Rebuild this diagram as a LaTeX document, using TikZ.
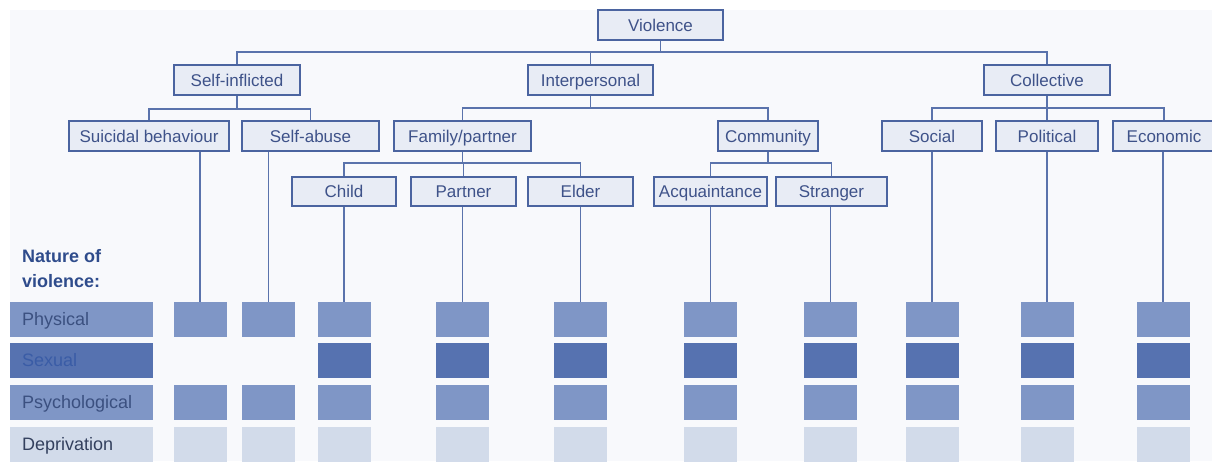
\documentclass[tikz,border=0pt]{standalone}
\usepackage{fontspec}
\setmainfont{Liberation Sans}
\definecolor{bg}{HTML}{F8F9FC}
\definecolor{boxfill}{HTML}{E8ECF5}
\definecolor{boxline}{HTML}{4B64A0}
\definecolor{boxtext}{HTML}{3E5289}
\definecolor{conncol}{HTML}{5A73AC}
\definecolor{physcol}{HTML}{7F96C6}
\definecolor{sexcol}{HTML}{5672B0}
\definecolor{deprcol}{HTML}{D2DBEA}
\definecolor{labtext}{HTML}{3B5080}
\definecolor{sextext}{HTML}{3A5CA6}
\definecolor{deprtext}{HTML}{33405E}
\definecolor{headtext}{HTML}{2F4C8C}
\begin{document}
\begin{tikzpicture}[x=1pt,y=-1pt,
  tbox/.style={draw=boxline, fill=boxfill, line width=1.8pt, inner sep=0pt,
    text=boxtext, text height=12.2pt, text depth=0pt,
    font=\fontsize{17}{20}\selectfont},
  lvtop/.style={tbox, minimum height=30pt},
  lvleaf/.style={tbox, minimum height=29pt},
  conn/.style={draw=conncol, line width=1.6pt},
  sq/.style={inner sep=0pt, minimum width=53pt, minimum height=35pt},
  sqp/.style={sq, fill=physcol},
  sqs/.style={sq, fill=sexcol},
  sqd/.style={sq, fill=deprcol},
  rowbar/.style={anchor=west, inner xsep=12pt, inner ysep=0pt, text width=119pt,
    text height=12.9pt, text depth=0pt,
    minimum height=35pt, align=left, font=\fontsize{18}{21}\selectfont}]
\useasboundingbox (0,0) rectangle (1212,461);
\fill[bg] (10,10) rectangle (1212,461);

% tree of categories
\node[lvtop, minimum width=125pt] (v) at (660.5,25) {Violence};
\node[lvtop, minimum width=126pt] (si) at (237,80) {Self-inflicted};
\node[lvtop, minimum width=125pt] (ip) at (590.5,80) {Interpersonal};
\node[lvtop, minimum width=126pt] (co) at (1047,80) {Collective};

\node[lvtop, minimum width=160pt] (sb) at (149,136) {Suicidal behaviour};
\node[lvtop, minimum width=137pt] (sa) at (310.5,136) {Self-abuse};
\node[lvtop, minimum width=137pt] (fp) at (462.5,136) {Family/partner};
\node[lvtop, minimum width=100pt] (cm) at (768,136) {Community};
\node[lvtop, minimum width=100pt] (so) at (932,136) {Social};
\node[lvtop, minimum width=102pt] (po) at (1047,136) {Political};
\node[lvtop, minimum width=102pt] (ec) at (1164,136) {Economic};

\node[lvleaf, minimum width=104pt] (ch) at (344,191.5) {Child};
\node[lvleaf, minimum width=105pt] (pa) at (463.5,191.5) {Partner};
\node[lvleaf, minimum width=105pt] (el) at (580.5,191.5) {Elder};
\node[lvleaf, minimum width=113pt] (ac) at (710.5,191.5) {Acquaintance};
\node[lvleaf, minimum width=111pt] (st) at (831.5,191.5) {Stranger};

% branches
\draw[conn] (v.south) -- (v.south |- 0,52);
\draw[conn] (si.north) |- (co.north |- 0,52) -- (co.north);
\draw[conn] (ip.north) -- (ip.north |- 0,52);

\draw[conn] (si.south) -- (si.south |- 0,109);
\draw[conn] (sb.north) |- (sa.north |- 0,109) -- (sa.north);
\draw[conn] (ip.south) -- (ip.south |- 0,108);
\draw[conn] (fp.north) |- (cm.north |- 0,108) -- (cm.north);
\draw[conn] (co.south) -- (co.south |- 0,108);
\draw[conn] (so.north) |- (ec.north |- 0,108) -- (ec.north);
\draw[conn] (po.north) -- (po.north |- 0,108);

\draw[conn] (fp.south) -- (fp.south |- 0,163);
\draw[conn] (ch.north) |- (el.north |- 0,163) -- (el.north);
\draw[conn] (pa.north) -- (pa.north |- 0,163);
\draw[conn] (cm.south) -- (cm.south |- 0,163);
\draw[conn] (ac.north) |- (st.north |- 0,163) -- (st.north);

% nature of violence legend
\node[anchor=north west, inner sep=0pt, align=left, text=headtext,
  font=\bfseries\fontsize{18}{25}\selectfont] (head) at (22,249)
  {Nature of\\violence:};
\node[rowbar, fill=physcol, text=labtext] (lp) at (10,319.5) {Physical};
\node[rowbar, fill=sexcol, text=sextext] (ls) at (10,360.5) {Sexual};
\node[rowbar, fill=physcol, text=labtext] (lq) at (10,402.5) {Psychological};
\node[rowbar, fill=deprcol, text=deprtext] (ld) at (10,444.5) {Deprivation};

% squares per category
\foreach \i/\x/\leaf/\hassex in {1/200/sb/0, 2/268.5/sa/0, 3/344/ch/1, 4/462.5/pa/1,
    5/580.5/el/1, 6/710.5/ac/1, 7/830.5/st/1, 8/932/so/1, 9/1047/po/1, 10/1163/ec/1}{
  \node[sqp] (p\i) at (\x,319.5) {};
  \ifnum\hassex=1 \node[sqs] (s\i) at (\x,360.5) {}; \fi
  \node[sqp] (q\i) at (\x,402.5) {};
  \node[sqd] (d\i) at (\x,444.5) {};
  \draw[conn] (p\i.north) -- (p\i.north |- \leaf.south);
}
\end{tikzpicture}
\end{document}
